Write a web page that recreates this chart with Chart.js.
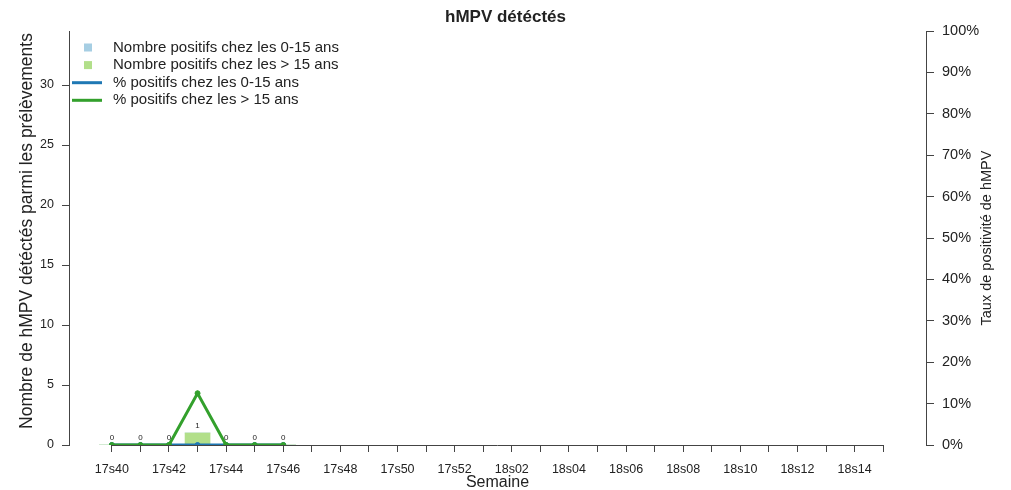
<!DOCTYPE html>
<html>
<head>
<meta charset="utf-8">
<script src="https://cdn.jsdelivr.net/npm/chart.js@4/dist/chart.umd.min.js"></script>
<style>
  html, body { margin: 0; padding: 0; background: #ffffff; }
  canvas { display: block; }
</style>
</head>
<body>
<canvas id="c" width="1011" height="490"></canvas>
<script>
// ---- data ----
const weekLabels = ['17s40','17s41','17s42','17s43','17s44','17s45','17s46','17s47','17s48','17s49','17s50','17s51','17s52',
                    '18s01','18s02','18s03','18s04','18s05','18s06','18s07','18s08','18s09','18s10','18s11','18s12','18s13','18s14','18s15'];
const countYoung = [0, 0, 0, 0, 0, 0, 0];      // Nombre positifs chez les 0-15 ans
const countOld   = [0, 0, 0, 1, 0, 0, 0];      // Nombre positifs chez les > 15 ans
const pctYoung   = [0, 0, 0, 0, 0, 0, 0];      // % positifs chez les 0-15 ans
const pctOld     = [0, 0, 0, 12.5, 0, 0, 0];   // % positifs chez les > 15 ans
const leftTickValues  = [0, 5, 10, 15, 20, 25, 30];
const rightTickValues = [0, 10, 20, 30, 40, 50, 60, 70, 80, 90, 100];

const FONT = '"Liberation Sans", Arial, Helvetica, sans-serif';
const AXIS = '#444444';
const TEXT = '#222222';
const C_LBLUE = '#A6CEE3', C_LGREEN = '#B2DF8A', C_BLUE = '#1F78B4', C_GREEN = '#33A02C';

const toXY = arr => arr.map((v, i) => ({ x: i, y: v }));

const extras = {
  id: 'extras',
  beforeDatasetsDraw(chart) {
    const ctx = chart.ctx, xs = chart.scales.x, y0 = chart.chartArea.bottom;
    ctx.save();
    ctx.strokeStyle = AXIS; ctx.lineWidth = 1;
    ctx.beginPath();
    ctx.moveTo(xs.getPixelForValue(0), Math.round(y0) + 0.5);
    ctx.lineTo(xs.getPixelForValue(weekLabels.length - 1), Math.round(y0) + 0.5);
    ctx.stroke();
    ctx.restore();
  },
  afterDatasetsDraw(chart) {
    const ctx = chart.ctx;
    const meta = chart.getDatasetMeta(1);
    ctx.save();
    ctx.font = '8px ' + FONT; ctx.fillStyle = TEXT;
    ctx.textAlign = 'center'; ctx.textBaseline = 'alphabetic';
    meta.data.forEach((bar, i) => {
      const total = countYoung[i] + countOld[i];
      ctx.fillText(String(total), bar.x, Math.min(bar.y, bar.base) - 5);
    });
    ctx.restore();
  },
  afterDraw(chart) {
    const ctx = chart.ctx;
    ctx.save();
    // legend (inside plot, top-left)
    const ds = chart.data.datasets;
    const rowY0 = 47.5, rowH = 17.6;
    ctx.font = '15px ' + FONT; ctx.textAlign = 'left'; ctx.textBaseline = 'middle';
    ds.forEach((d, i) => {
      const y = rowY0 + i * rowH;
      if (d.type === 'bar') {
        ctx.fillStyle = d.backgroundColor;
        ctx.fillRect(84, y - 4, 8, 8);
      } else {
        ctx.strokeStyle = d.borderColor; ctx.lineWidth = 3;
        ctx.beginPath(); ctx.moveTo(72, y); ctx.lineTo(102, y); ctx.stroke();
      }
      ctx.fillStyle = TEXT;
      ctx.fillText(d.label, 113, y);
    });
    // y-axis titles (both read bottom to top)
    ctx.fillStyle = TEXT; ctx.textAlign = 'center'; ctx.textBaseline = 'middle';
    ctx.save();
    ctx.translate(27, 231); ctx.rotate(-Math.PI / 2);
    ctx.font = '17.5px ' + FONT;
    ctx.fillText('Nombre de hMPV détéctés parmi les prélèvements', 0, 0);
    ctx.restore();
    ctx.save();
    ctx.translate(987, 238); ctx.rotate(-Math.PI / 2);
    ctx.font = '14.5px ' + FONT;
    ctx.fillText('Taux de positivité de hMPV', 0, 0);
    ctx.restore();
    ctx.restore();
  }
};

new Chart(document.getElementById('c'), {
  type: 'bar',
  data: {
    datasets: [
      { type: 'bar', label: 'Nombre positifs chez les 0-15 ans', data: toXY(countYoung),
        backgroundColor: C_LBLUE, yAxisID: 'y', barThickness: 25, order: 3 },
      { type: 'bar', label: 'Nombre positifs chez les > 15 ans', data: toXY(countOld),
        backgroundColor: C_LGREEN, yAxisID: 'y', barThickness: 25, order: 2 },
      { type: 'line', label: '% positifs chez les 0-15 ans', data: toXY(pctYoung),
        borderColor: C_BLUE, backgroundColor: C_BLUE, pointBackgroundColor: C_BLUE, pointBorderColor: C_BLUE,
        borderWidth: 3, pointRadius: 2.5, pointBorderWidth: 1, tension: 0, yAxisID: 'y1', order: 1 },
      { type: 'line', label: '% positifs chez les > 15 ans', data: toXY(pctOld),
        borderColor: C_GREEN, backgroundColor: C_GREEN, pointBackgroundColor: C_GREEN, pointBorderColor: C_GREEN,
        borderWidth: 3, pointRadius: 2.5, pointBorderWidth: 1, tension: 0, yAxisID: 'y1', order: 0 }
    ]
  },
  options: {
    responsive: false,
    animation: false,
    devicePixelRatio: 1,
    layout: { padding: 0 },
    plugins: {
      legend: { display: false },
      tooltip: { enabled: false },
      title: { display: true, text: 'hMPV détéctés', color: TEXT,
               font: { family: FONT, size: 17, weight: 'bold', lineHeight: 1.2 }, padding: { top: 7.5, bottom: 3.1 } }
    },
    scales: {
      x: {
        type: 'linear', min: -1.5, max: 28.5, stacked: true, offset: false,
        afterBuildTicks: s => { s.ticks = weekLabels.map((w, i) => ({ value: i })); },
        ticks: { autoSkip: false, maxRotation: 0, minRotation: 0, padding: 10, color: TEXT,
                 font: { family: FONT, size: 12.5 },
                 callback: v => (v % 2 === 0 ? weekLabels[v] : '') },
        grid: { display: true, drawOnChartArea: false, offset: false, tickLength: 7, tickColor: AXIS, color: AXIS },
        border: { display: false },
        title: { display: true, text: 'Semaine', color: TEXT, font: { family: FONT, size: 16, lineHeight: 0.9 },
                 padding: { top: 0, bottom: 0 } },
        afterFit: s => { s.height = 45; }
      },
      y: {
        type: 'linear', position: 'left', min: 0, max: 34.5, stacked: true,
        afterBuildTicks: s => { s.ticks = leftTickValues.map(v => ({ value: v })); },
        ticks: { padding: 8, color: TEXT, font: { family: FONT, size: 12.5 } },
        grid: { drawOnChartArea: false, tickLength: 7, tickColor: AXIS, color: AXIS },
        border: { display: true, color: AXIS, width: 1 },
        afterFit: s => { s.width = 69; }
      },
      y1: {
        type: 'linear', position: 'right', min: 0, max: 100,
        afterBuildTicks: s => { s.ticks = rightTickValues.map(v => ({ value: v })); },
        ticks: { padding: 8, color: TEXT, font: { family: FONT, size: 14.5 }, callback: v => v + '%' },
        grid: { drawOnChartArea: false, tickLength: 8, tickColor: AXIS, color: AXIS },
        border: { display: true, color: AXIS, width: 1 },
        afterFit: s => { s.width = 85; }
      }
    }
  },
  plugins: [extras]
});
</script>
</body>
</html>
